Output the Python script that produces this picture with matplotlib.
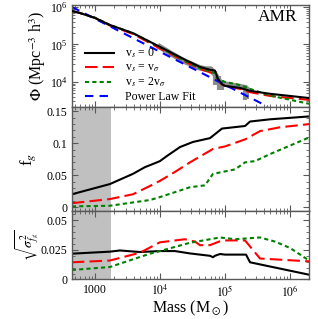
import numpy as np
import matplotlib
matplotlib.use("Agg")
import matplotlib.pyplot as plt
from matplotlib.ticker import LogLocator, FixedLocator, FixedFormatter, MultipleLocator, NullFormatter

plt.rcParams['font.family'] = ['Liberation Serif', 'DejaVu Serif']
plt.rcParams['mathtext.fontset'] = 'stix'

# ---- data ----
mass_top = [443, 588, 1000, 1701, 3846, 1e4, 24250, 41230, 58760, 70000, 78000, 90000,
            1e5, 170100, 242500, 492200, 1.96e6]
phi_v0 = [7.8e5, 6.9e5, 5.1e5, 3.3e5, 2.0e5, 8.6e4, 3.9e4, 2.5e4, 2.1e4, 2.0e4, 1.2e4, 8.6e3,
          7.8e3, 6.9e3, 5.75e3, 4.8e3, 3.7e3]
phi_v1 = [7.8e5, 6.9e5, 5.1e5, 3.2e5, 1.9e5, 7.8e4, 3.5e4, 2.2e4, 1.8e4, 1.6e4, 1.1e4, 8.5e3,
          7.9e3, 6.5e3, 5.3e3, 4.2e3, 3.3e3]
phi_v2 = [7.8e5, 6.9e5, 5.2e5, 3.3e5, 2.0e5, 8.4e4, 3.6e4, 2.3e4, 1.9e4, 1.7e4, 1.15e4, 1.05e4,
          1.0e4, 8.2e3, 6.5e3, 4.3e3, 2.6e3]
fit_mass = [443, 4.5e5]
fit_phi = [1.0e6, 2.2e3]
obs_mass = [10000, 15000, 20000, 25000, 30000, 40000, 50000, 60000, 70000, 80000, 90000,
            205000, 215000]
obs_phi = [8.6e4, 5.6e4, 4.2e4, 3.4e4, 3.0e4, 2.4e4, 2.2e4, 2.2e4, 1.6e4, 1.1e4, 9e3,
           7.0e3, 6.5e3]
obs_lo = [8.0e4, 5.0e4, 3.8e4, 3.0e4, 2.6e4, 2.1e4, 1.9e4, 1.8e4, 8e3, 6e3, 6e3,
          3.2e3, 3.5e3]
obs_hi = [9.2e4, 6.2e4, 4.6e4, 3.8e4, 3.4e4, 2.7e4, 2.5e4, 2.5e4, 2.0e4, 1.4e4, 1.1e4,
          8.0e3, 7.5e3]

mass_fg_v0 = [443, 1701, 3846, 5880, 8995, 1e4, 12820, 20310, 32180, 58760, 89950, 203000,
              242500, 492200, 1.96e6]
fg_v0 = [0.020, 0.036, 0.052, 0.0625, 0.070, 0.072, 0.080, 0.094, 0.102, 0.108, 0.123,
         0.127, 0.134, 0.1375, 0.142]
mass_fg_v1 = [443, 1701, 3846, 7018, 1e4, 17010, 28940, 65310, 1e5, 203000, 345300,
              701800, 1.96e6]
fg_v1 = [0.006, 0.0125, 0.020, 0.033, 0.041, 0.055, 0.070, 0.091, 0.095, 0.106, 0.119,
         0.125, 0.130]
mass_fg_v2 = [443, 1701, 7018, 1e4, 28940, 49220, 65310, 142600, 203000, 289400, 492200,
              1.96e6]
fg_v2 = [0.001, 0.002, 0.011, 0.0156, 0.031, 0.034, 0.052, 0.059, 0.070, 0.072, 0.083,
         0.109]

mass_sig_v0 = [443, 1701, 2425, 4925, 1e4, 17010, 28940, 58760, 65310, 70000, 83760, 1e5,
               210400, 242500, 1.96e6]
sig_v0 = [0.0218, 0.0235, 0.0245, 0.0232, 0.0240, 0.024, 0.0220, 0.0200, 0.0188, 0.020,
          0.0215, 0.021, 0.021, 0.0145, 0.004]
mass_sig_v1 = [443, 1701, 4925, 1e4, 24250, 34530, 41230, 58760, 89950, 203000, 345300,
               1.96e6]
sig_v1 = [0.0145, 0.016, 0.0226, 0.0314, 0.034, 0.032, 0.029, 0.029, 0.033, 0.033,
          0.0177, 0.0153]
mass_sig_v2 = [443, 1701, 7018, 1e4, 28940, 83760, 142600, 345300, 587800, 1e6, 1.96e6]
sig_v2 = [0.008, 0.0105, 0.0218, 0.024, 0.031, 0.0355, 0.034, 0.0355, 0.032, 0.0266, 0.016]

shade_limit = 1740
xlim = (443, 1.96e6)

# ---- figure ----
fig = plt.figure(figsize=(3.18, 3.19), dpi=100)
L, R = 0.226, 0.972
ax1 = fig.add_axes([L, 0.665, R - L, 0.984 - 0.665])
ax2 = fig.add_axes([L, 0.339, R - L, 0.665 - 0.339])
ax3 = fig.add_axes([L, 0.124, R - L, 0.339 - 0.124])

spine_col = '0.35'
for ax in (ax1, ax2, ax3):
    ax.set_xscale('log')
    ax.set_xlim(*xlim)
    for s in ax.spines.values():
        s.set_color(spine_col)
        s.set_linewidth(1.0)
    ax.tick_params(which='both', direction='in', top=True, right=True, labelsize=8.5,
                   colors='black', pad=3)
    ax.tick_params(which='major', length=4, color=spine_col)
    ax.tick_params(which='minor', length=2, color=spine_col)
    ax.xaxis.set_major_locator(FixedLocator([1e3, 1e4, 1e5, 1e6]))
    ax.xaxis.set_minor_locator(LogLocator(base=10, subs=np.arange(2, 10), numticks=20))
    ax.xaxis.set_minor_formatter(NullFormatter())

lw = 1.5
# top panel
ax1.set_yscale('log')
ax1.set_ylim(2150, 1.12e6)
lower = np.array(obs_phi) - np.array(obs_lo)
upper = np.array(obs_hi) - np.array(obs_phi)
ax1.errorbar(obs_mass, obs_phi, yerr=[lower, upper], color='0.55', lw=4, elinewidth=3,
             capsize=0, zorder=1)
ax1.plot(mass_top, phi_v0, color='black', lw=lw, zorder=3, label=r'v$_s$ = 0')
ax1.plot(mass_top, phi_v1, color='red', lw=lw, ls=(0, (6, 2.5)), zorder=2,
         label=r'v$_s$ = v$_\sigma$')
ax1.plot(mass_top, phi_v2, color='green', lw=lw, ls=(0, (2, 1.5)), zorder=2,
         label=r'v$_s$ = 2v$_\sigma$')
ax1.plot(fit_mass, fit_phi, color='blue', lw=lw, ls=(0, (4, 3)), zorder=2,
         label='Power Law Fit')
ax1.set_xticklabels([])
ax1.set_ylabel(r'$\Phi$ (Mpc$^{-3}$ h$^{3}$)', fontsize=11.5, labelpad=1)
ax1.legend(loc='lower left', bbox_to_anchor=(0.02, -0.04), frameon=False, fontsize=8.5,
           handlelength=2.5, handletextpad=0.9, labelspacing=0.12, borderpad=0.2)
ax1.text(0.95, 0.88, 'AMR', transform=ax1.transAxes, ha='right', va='center', fontsize=12.5)

# middle panel
ax2.axvspan(xlim[0], shade_limit, color='#c0c0c0', lw=0, zorder=0)
ax2.plot(mass_fg_v0, fg_v0, color='black', lw=lw)
ax2.plot(mass_fg_v1, fg_v1, color='red', lw=lw, ls=(0, (6, 2.5)))
ax2.plot(mass_fg_v2, fg_v2, color='green', lw=lw, ls=(0, (2, 1.5)))
ax2.set_ylim(-0.006, 0.157)
ax2.yaxis.set_major_locator(FixedLocator([0, 0.05, 0.1, 0.15]))
ax2.yaxis.set_major_formatter(FixedFormatter(['0', '0.05', '0.1', '0.15']))
ax2.yaxis.set_minor_locator(MultipleLocator(0.01))
ax2.set_xticklabels([])
ax2.set_ylabel(r'f$_g$', fontsize=12, labelpad=6)

# bottom panel
ax3.axvspan(xlim[0], shade_limit, color='#c0c0c0', lw=0, zorder=0)
ax3.plot(mass_sig_v0, sig_v0, color='black', lw=lw)
ax3.plot(mass_sig_v1, sig_v1, color='red', lw=lw, ls=(0, (6, 2.5)))
ax3.plot(mass_sig_v2, sig_v2, color='green', lw=lw, ls=(0, (2, 1.5)))
ax3.set_ylim(0, 0.058)
ax3.yaxis.set_major_locator(FixedLocator([0, 0.025, 0.05]))
ax3.yaxis.set_major_formatter(FixedFormatter(['0', '0.025', '0.05']))
ax3.yaxis.set_minor_locator(MultipleLocator(0.005))
ax3.xaxis.set_major_formatter(FixedFormatter(['1000', r'$10^4$', r'$10^5$', r'$10^6$']))
ax3.set_ylabel(r'$\sqrt{\sigma^2_{f_g}}$', fontsize=10, labelpad=0, rotation=90)
ax3.set_xlabel(r'Mass (M$_\odot$)', fontsize=11.5, labelpad=0)

fig.savefig('out.png', dpi=100)
